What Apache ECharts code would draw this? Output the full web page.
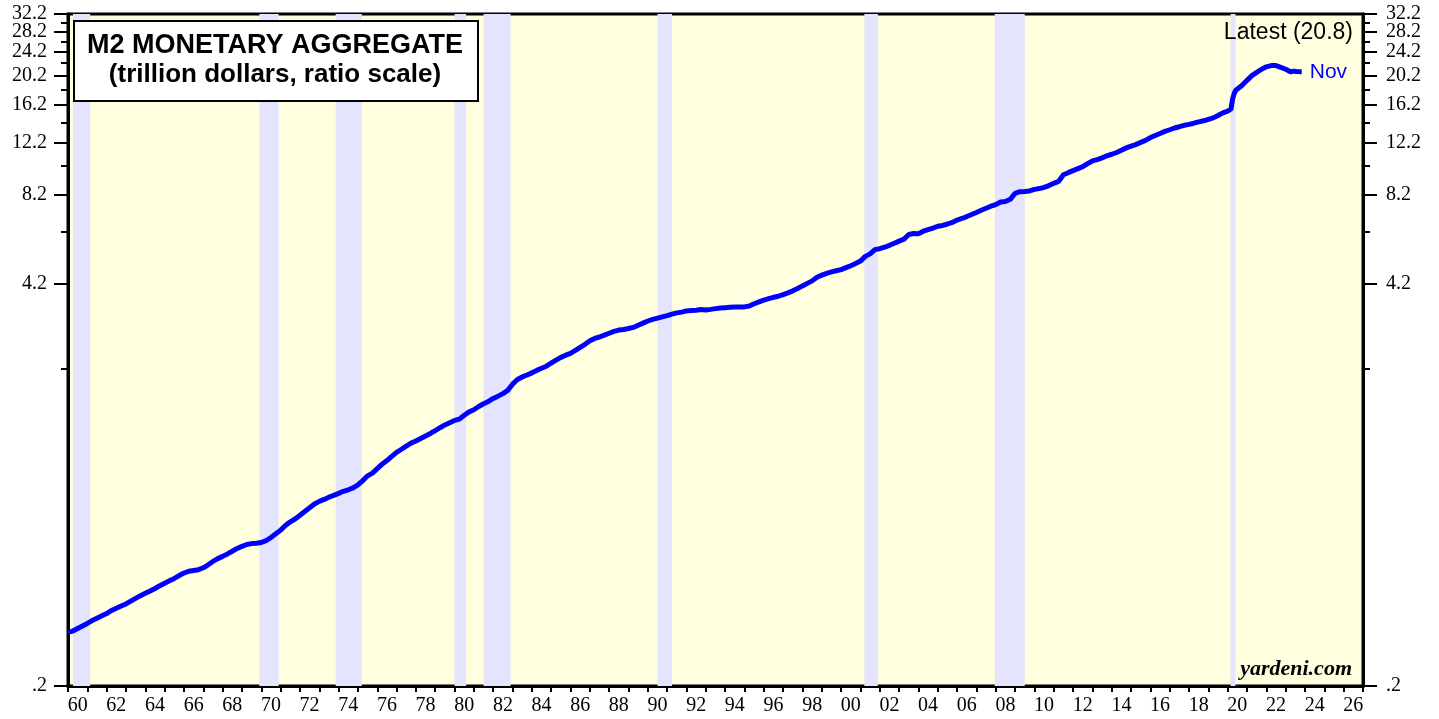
<!DOCTYPE html>
<html>
<head>
<meta charset="utf-8">
<script src="https://cdn.jsdelivr.net/npm/echarts@6.0.0/dist/echarts.min.js"></script>
<style>
html,body{margin:0;padding:0;background:#fff;}
#chart{width:1439px;height:719px;}
</style>
</head>
<body>
<div id="chart"></div>
<script>
// ---- DATA ----
// M2, trillion dollars, quarterly (Jan, Apr, Jul, Oct) from 1960 to 2019
const m2Start = 1960;
const m2Quarterly = [
  [0.300,0.303,0.309,0.315], // 1960
  [0.321,0.328,0.334,0.340], // 1961
  [0.346,0.354,0.360,0.366], // 1962
  [0.372,0.380,0.388,0.396], // 1963
  [0.403,0.410,0.418,0.427], // 1964
  [0.435,0.443,0.451,0.461], // 1965
  [0.470,0.476,0.479,0.482], // 1966
  [0.489,0.500,0.513,0.524], // 1967
  [0.533,0.543,0.554,0.566], // 1968
  [0.575,0.583,0.587,0.589], // 1969
  [0.592,0.600,0.615,0.632], // 1970
  [0.650,0.673,0.692,0.707], // 1971
  [0.727,0.748,0.770,0.792], // 1972
  [0.808,0.820,0.834,0.845], // 1973
  [0.858,0.872,0.882,0.895], // 1974
  [0.915,0.945,0.980,1.000], // 1975
  [1.035,1.070,1.100,1.135], // 1976
  [1.170,1.198,1.227,1.255], // 1977
  [1.275,1.300,1.325,1.350], // 1978
  [1.380,1.410,1.440,1.465], // 1979
  [1.490,1.505,1.550,1.590], // 1980
  [1.615,1.655,1.690,1.720], // 1981
  [1.760,1.790,1.825,1.870], // 1982
  [1.960,2.030,2.070,2.100], // 1983
  [2.135,2.175,2.210,2.245], // 1984
  [2.300,2.350,2.400,2.440], // 1985
  [2.475,2.530,2.590,2.650], // 1986
  [2.720,2.770,2.800,2.840], // 1987
  [2.880,2.920,2.950,2.965], // 1988
  [2.985,3.010,3.060,3.110], // 1989
  [3.160,3.200,3.230,3.260], // 1990
  [3.290,3.330,3.360,3.380], // 1991
  [3.410,3.420,3.430,3.445], // 1992
  [3.435,3.450,3.470,3.485], // 1993
  [3.495,3.505,3.510,3.510], // 1994
  [3.515,3.540,3.600,3.650], // 1995
  [3.700,3.740,3.780,3.810], // 1996
  [3.860,3.910,3.970,4.040], // 1997
  [4.120,4.200,4.280,4.400], // 1998
  [4.470,4.530,4.580,4.620], // 1999
  [4.660,4.730,4.800,4.880], // 2000
  [4.970,5.150,5.250,5.420], // 2001
  [5.460,5.520,5.600,5.690], // 2002
  [5.780,5.870,6.080,6.120], // 2003
  [6.110,6.230,6.310,6.380], // 2004
  [6.470,6.510,6.580,6.660], // 2005
  [6.780,6.860,6.960,7.070], // 2006
  [7.180,7.300,7.410,7.530], // 2007
  [7.620,7.770,7.800,7.930], // 2008
  [8.300,8.400,8.420,8.450], // 2009
  [8.550,8.600,8.680,8.800], // 2010
  [8.950,9.080,9.550,9.700], // 2011
  [9.850,10.000,10.150,10.390], // 2012
  [10.600,10.700,10.850,11.020], // 2013
  [11.150,11.300,11.500,11.700], // 2014
  [11.850,12.000,12.200,12.380], // 2015
  [12.650,12.850,13.050,13.250], // 2016
  [13.420,13.600,13.730,13.880], // 2017
  [13.980,14.100,14.240,14.360], // 2018
  [14.520,14.680,14.950,15.250]  // 2019
];
// recent months (decimal year, value)
const recentDates  = [2020.0, 2020.17, 2020.25, 2020.33, 2020.42, 2020.5, 2020.75, 2021.0, 2021.25, 2021.5, 2021.75, 2022.0, 2022.25, 2022.5, 2022.75, 2023.0, 2023.25, 2023.42, 2023.58, 2023.75, 2023.83];
const recentValues = [15.45, 15.70, 16.90, 17.60, 18.10, 18.30, 18.80, 19.50, 20.20, 20.70, 21.20, 21.60, 21.80, 21.80, 21.50, 21.20, 20.80, 20.90, 20.85, 20.80, 20.80];
const latestLabel = 'Nov';

// recessions (decimal years)
const recessions = [[1960.26,1961.15],[1969.9,1970.9],[1973.85,1975.2],[1980.0,1980.6],[1981.5,1982.9],[1990.5,1991.25],[2001.2,2001.9],[2007.95,2009.5],[2020.15,2020.4]];

// tick values
const yMajorTicks = [0.2, 4.2, 8.2, 12.2, 16.2, 20.2, 24.2, 28.2, 32.2];
const yMinorTicks = [2.2, 6.2, 10.2, 14.2, 18.2, 22.2, 26.2, 30.2];
const xStartYear = 1960, xEndYear = 2027;
const xLabelYears = [1960,1962,1964,1966,1968,1970,1972,1974,1976,1978,1980,1982,1984,1986,1988,1990,1992,1994,1996,1998,2000,2002,2004,2006,2008,2010,2012,2014,2016,2018,2020,2022,2024,2026];

// ---- build series data ----
const seriesData = [];
m2Quarterly.forEach((row, i) => {
  row.forEach((v, q) => seriesData.push([m2Start + i + q * 0.25, v]));
});
recentDates.forEach((d, i) => seriesData.push([d, recentValues[i]]));
const latestValue = recentValues[recentValues.length - 1];

const xTicks = [];
for (let y = xStartYear; y <= xEndYear; y++) xTicks.push(y);
const xLabelPos = xLabelYears.map(y => y + 0.5);

// keep end ticks just inside the axis extent (floating point in log space)
const yMin = 0.2, yMax = 32.2;
const clampTick = v => Math.min(Math.max(v, yMin * 1.00001), yMax * 0.99999);
const yMajorPos = yMajorTicks.map(clampTick);
const yMinorPos = yMinorTicks.map(clampTick);
// labels split over two axes so the tightly spaced top labels are not dropped
const yLabelsA = yMajorPos.filter((v, i) => i % 2 === 0);
const yLabelsB = yMajorPos.filter((v, i) => i % 2 === 1);

const serif = '"Liberation Serif", "Times New Roman", serif';
const sans = '"Liberation Sans", Arial, sans-serif';

function yFmt(v) {
  const s = (Math.round(v * 10) / 10).toFixed(1);
  return s.startsWith('0') ? s.slice(1) : s;
}

const yBase = { type: 'log', logBase: 10, min: yMin, max: yMax, splitLine: { show: false } };
const yLabelBase = {
  show: true, fontFamily: serif, fontSize: 20, lineHeight: 14,
  color: '#000', formatter: yFmt, showMaxLabel: true, showMinLabel: true, hideOverlap: false
};

const chart = echarts.init(document.getElementById('chart'), null, { renderer: 'canvas' });
chart.setOption({
  animation: false,
  backgroundColor: '#ffffff',
  grid: {
    left: 68, right: 76, top: 14, bottom: 33,
    show: true, backgroundColor: '#FFFFE0', borderColor: '#000', borderWidth: 3
  },
  xAxis: {
    type: 'value', min: xStartYear, max: xEndYear,
    splitLine: { show: false },
    axisLine: { show: true, lineStyle: { color: '#000', width: 3 } },
    axisTick: { show: true, customValues: xTicks, length: 6, lineStyle: { color: '#000', width: 2 } },
    axisLabel: {
      show: true, customValues: xLabelPos, margin: 10,
      fontFamily: serif, fontSize: 20, color: '#000',
      formatter: v => String(Math.floor(v + 0.01) % 100).padStart(2, '0')
    }
  },
  yAxis: [
    Object.assign({}, yBase, {
      position: 'left',
      axisLine: { show: true, lineStyle: { color: '#000', width: 3 } },
      axisTick: { show: true, customValues: yMajorPos, length: 14, lineStyle: { color: '#000', width: 2 } },
      axisLabel: Object.assign({}, yLabelBase, { customValues: yLabelsA, margin: 21 })
    }),
    Object.assign({}, yBase, {
      position: 'left',
      axisLine: { show: false },
      axisTick: { show: true, customValues: yMinorPos, length: 7, lineStyle: { color: '#000', width: 2 } },
      axisLabel: Object.assign({}, yLabelBase, { customValues: yLabelsB, margin: 21 })
    }),
    Object.assign({}, yBase, {
      position: 'right',
      axisLine: { show: true, lineStyle: { color: '#000', width: 3 } },
      axisTick: { show: true, customValues: yMajorPos, length: 14, lineStyle: { color: '#000', width: 2 } },
      axisLabel: Object.assign({}, yLabelBase, { customValues: yLabelsA, margin: 23 })
    }),
    Object.assign({}, yBase, {
      position: 'right',
      axisLine: { show: false },
      axisTick: { show: true, customValues: yMinorPos, length: 7, lineStyle: { color: '#000', width: 2 } },
      axisLabel: Object.assign({}, yLabelBase, { customValues: yLabelsB, margin: 23 })
    })
  ],
  series: [
    {
      type: 'line', name: 'recessions', data: [], silent: true,
      markArea: {
        silent: true,
        itemStyle: { color: '#E4E4FF' },
        data: recessions.map(r => [{ xAxis: r[0] }, { xAxis: r[1] }])
      }
    },
    {
      type: 'line', name: 'M2', data: seriesData, yAxisIndex: 0,
      showSymbol: false, symbol: 'none', smooth: false,
      lineStyle: { color: '#0000FF', width: 5 },
      z: 5,
      endLabel: {
        show: true, formatter: latestLabel, color: '#0000FF',
        fontFamily: sans, fontSize: 21, distance: 8
      }
    }
  ],
  graphic: [
    {
      type: 'rect', left: 73, top: 20, z: 100,
      shape: { width: 404, height: 80 },
      style: { fill: '#fff', stroke: '#000', lineWidth: 2 }
    },
    {
      type: 'text', x: 275, y: 46, z: 101,
      style: { text: 'M2 MONETARY AGGREGATE', fontFamily: sans, fontWeight: 'bold', fontSize: 27, fill: '#000', align: 'center', verticalAlign: 'middle' }
    },
    {
      type: 'text', x: 275, y: 75, z: 101,
      style: { text: '(trillion dollars, ratio scale)', fontFamily: sans, fontWeight: 'bold', fontSize: 26, fill: '#000', align: 'center', verticalAlign: 'middle' }
    },
    {
      type: 'text', x: 1353, y: 33, z: 101,
      style: { text: 'Latest (' + latestValue.toFixed(1) + ')', fontFamily: sans, fontSize: 23, fill: '#000', align: 'right', verticalAlign: 'middle' }
    },
    {
      type: 'text', x: 1352, y: 669, z: 101,
      style: { text: 'yardeni.com', fontFamily: serif, fontWeight: 'bold', fontStyle: 'italic', fontSize: 22, fill: '#000', align: 'right', verticalAlign: 'middle' }
    }
  ]
});
</script>
</body>
</html>
